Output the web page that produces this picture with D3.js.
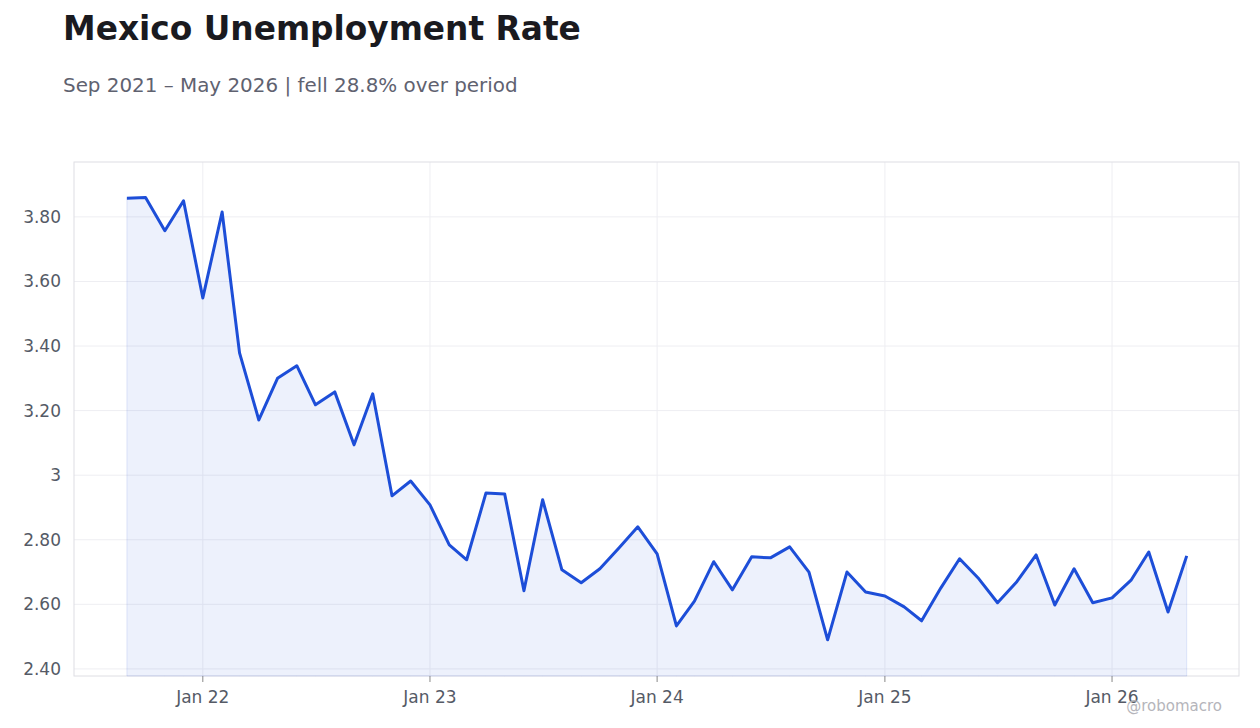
<!DOCTYPE html>
<html>
<head>
<meta charset="utf-8">
<script src="https://d3js.org/d3.v7.min.js"></script>
<style>
  body { margin: 0; background: #fff; font-family: "DejaVu Sans", sans-serif; }
</style>
</head>
<body>
<svg id="chart" width="1260" height="728"></svg>
<script>
const startMonth = [2021, 8]; // Sep 2021 (0-based month)
const rates = [3.858, 3.860, 3.757, 3.85, 3.549, 3.815, 3.379, 3.171, 3.30, 3.339, 3.218, 3.258,
  3.094, 3.252, 2.936, 2.982, 2.908, 2.784, 2.738, 2.945, 2.942, 2.642, 2.924, 2.707,
  2.667, 2.71, 2.775, 2.84, 2.756, 2.533, 2.61, 2.732, 2.645, 2.747, 2.744, 2.778,
  2.70, 2.49, 2.70, 2.638, 2.626, 2.592, 2.549, 2.651, 2.741, 2.679, 2.605, 2.67,
  2.753, 2.598, 2.71, 2.605, 2.62, 2.676, 2.762, 2.576, 2.75];
const yTicks = [2.4, 2.6, 2.8, 3.0, 3.2, 3.4, 3.6, 3.8];
const xTickYears = [2022, 2023, 2024, 2025, 2026];

const data = rates.map((v, i) => ({ date: new Date(startMonth[0], startMonth[1] + i, 1), value: v }));

const svg = d3.select('#chart');
const pl = 74, pr = 1239, pt = 162, pb = 676;

const x = d3.scaleTime()
  .domain([new Date(2021, 5, 8), new Date(2026, 6, 24)])
  .range([pl, pr]);
const y = d3.scaleLinear().domain([2.378, 3.970]).range([pb, pt]);

svg.append('text').attr('x', 63).attr('y', 40)
  .style('font-size', '32.8px').style('font-weight', 'bold').style('fill', '#1a1a1f')
  .text('Mexico Unemployment Rate');
svg.append('text').attr('x', 63).attr('y', 92)
  .style('font-size', '19.9px').style('fill', '#5f6270')
  .text('Sep 2021 – May 2026 | fell 28.8% over period');

// grid
svg.append('g').selectAll('line').data(yTicks).enter().append('line')
  .attr('x1', pl).attr('x2', pr)
  .attr('y1', d => y(d)).attr('y2', d => y(d))
  .attr('stroke', '#eeeef2');
svg.append('g').selectAll('line').data(xTickYears).enter().append('line')
  .attr('x1', d => x(new Date(d, 0, 1))).attr('x2', d => x(new Date(d, 0, 1)))
  .attr('y1', pt).attr('y2', pb)
  .attr('stroke', '#eeeef2');

svg.append('rect').attr('x', pl).attr('y', pt)
  .attr('width', pr - pl).attr('height', pb - pt)
  .attr('fill', 'none').attr('stroke', '#dedee3');

// y labels
svg.append('g').selectAll('text').data(yTicks).enter().append('text')
  .attr('x', pl - 13).attr('y', d => y(d) + 6)
  .attr('text-anchor', 'end')
  .style('font-size', '17px').style('fill', '#555a66')
  .text(d => Number.isInteger(d) ? String(d) : d.toFixed(2));

// x ticks + labels
svg.append('g').selectAll('line').data(xTickYears).enter().append('line')
  .attr('x1', d => x(new Date(d, 0, 1))).attr('x2', d => x(new Date(d, 0, 1)))
  .attr('y1', pb).attr('y2', pb + 6).attr('stroke', '#888');
svg.append('g').selectAll('text').data(xTickYears).enter().append('text')
  .attr('x', d => x(new Date(d, 0, 1))).attr('y', pb + 27)
  .attr('text-anchor', 'middle')
  .style('font-size', '17px').style('fill', '#555a66')
  .text(d => 'Jan ' + String(d).slice(2));

const area = d3.area().x(d => x(d.date)).y0(pb).y1(d => y(d.value));
svg.append('path').datum(data).attr('d', area)
  .attr('fill', 'rgba(29,78,216,0.08)')
  .attr('stroke', 'rgba(29,78,216,0.12)');

const line = d3.line().x(d => x(d.date)).y(d => y(d.value));
svg.append('path').datum(data).attr('d', line)
  .attr('fill', 'none').attr('stroke', '#1d4ed8')
  .attr('stroke-width', 3).attr('stroke-linejoin', 'round');

svg.append('text').attr('x', 1222).attr('y', 711).attr('text-anchor', 'end')
  .style('font-size', '15px').style('fill', '#b5b5bb')
  .text('@robomacro');
</script>
</body>
</html>
